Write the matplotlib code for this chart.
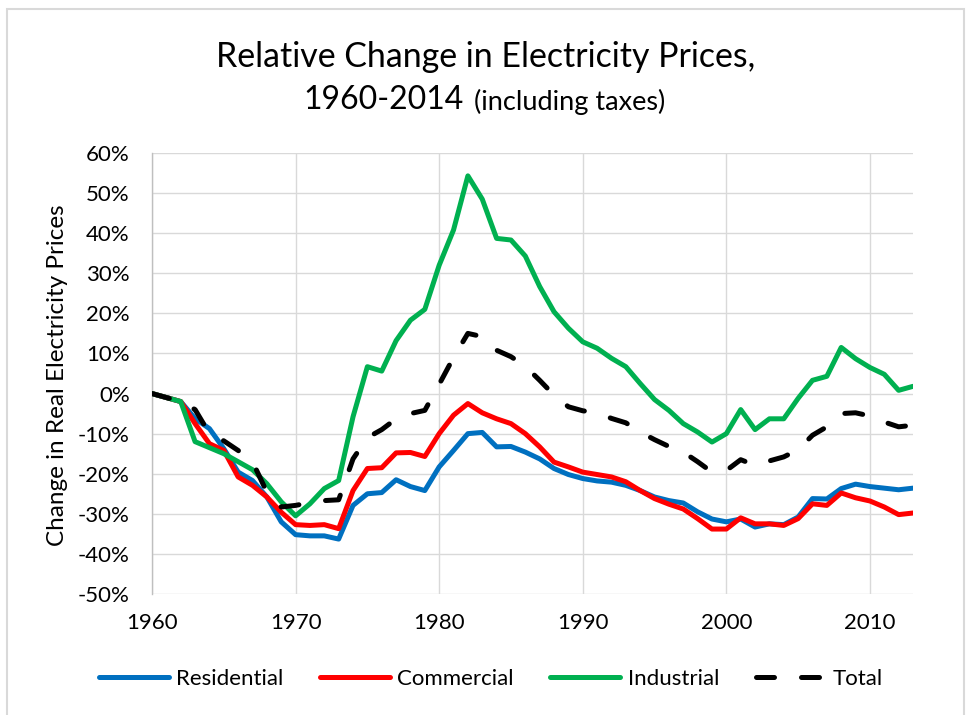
import matplotlib
matplotlib.use("Agg")
import matplotlib.pyplot as plt
from matplotlib.patches import Rectangle
import numpy as np

plt.rcParams['font.family'] = ['Lato', 'DejaVu Sans']

years = list(range(1960, 2014))

residential = [0, -1, -2, -6.25, -8.75, -13.75, -19.6, -21.7, -25.8, -32,
               -35.2, -35.5, -35.5, -36.3, -27.9, -25, -24.7, -21.5, -23.2, -24.2,
               -18.3, -14.2, -10, -9.7, -13.3, -13.2, -14.6, -16.3, -18.7, -20.2,
               -21.2, -21.8, -22.1, -22.9, -24.2, -25.8, -26.7, -27.3, -29.5, -31.3,
               -32, -31.3, -33.3, -32.5, -32.7, -30.8, -26.2, -26.3, -23.7, -22.6,
               -23.2, -23.6, -24, -23.6]

commercial = [0, -1, -2, -7.5, -12.5, -14.2, -20.8, -22.9, -25.8, -29.6,
              -32.7, -32.9, -32.7, -33.7, -24.2, -18.7, -18.5, -14.8, -14.7, -15.7,
              -10, -5.4, -2.5, -4.8, -6.3, -7.5, -10, -13.3, -17.1, -18.3,
              -19.6, -20.2, -20.8, -22, -24.2, -26.2, -27.6, -28.8, -31.2, -33.8,
              -33.8, -31, -32.5, -32.5, -32.9, -31.2, -27.5, -27.9, -24.8, -26,
              -26.8, -28.3, -30.2, -29.8]

industrial = [0, -1, -2, -12, -13.5, -15, -17, -19, -22.5, -27,
              -30.5, -27.5, -23.7, -21.7, -5.8, 6.7, 5.6, 13.2, 18.3, 21,
              32, 40.8, 54.3, 48.5, 38.7, 38.3, 34.3, 26.7, 20.4, 16.3,
              12.9, 11.3, 8.8, 6.7, 2.5, -1.5, -4.2, -7.5, -9.6, -12.1,
              -10, -4, -9, -6.3, -6.3, -1.2, 3.3, 4.3, 11.5, 8.7,
              6.5, 4.8, 0.8, 1.8]

total = [0, -1, -2, -4, -10, -11.8, -14.2, -17, -24.6, -28.3,
         -27.9, -27.2, -26.7, -26.5, -16.3, -11, -9, -6.3, -5, -4.2,
         2.3, 9, 15, 14.2, 10.8, 9.2, 6.8, 3.3, -0.4, -3.3,
         -4.3, -4.8, -6.2, -7.3, -9.6, -11.5, -13.2, -14.6, -17, -19.6,
         -19.2, -16.5, -17.9, -16.8, -15.8, -14, -10.4, -8.3, -5, -4.8,
         -5.6, -7.1, -8.3, -7.9]

series_names = ['Residential', 'Commercial', 'Industrial', 'Total']
series_colors = ['#0070C0', '#FF0000', '#00B050', '#000000']
x_ticks = [1960, 1970, 1980, 1990, 2000, 2010]
y_ticks = list(range(-50, 61, 10))

W, H = 967, 715
fig = plt.figure(figsize=(W / 100, H / 100), dpi=100)
ax = fig.add_axes([152 / W, 1 - 594 / H, (913 - 152) / W, (594 - 153) / H])

lw = 3.6
data = [residential, commercial, industrial, total]
for name, vals, col in zip(series_names, data, series_colors):
    if name == 'Total':
        ax.plot(years, vals, color=col, lw=lw, label=name,
                dashes=(3.6, 5.4), dash_capstyle='round', solid_capstyle='round', zorder=4)
    else:
        ax.plot(years, vals, color=col, lw=lw, label=name,
                solid_capstyle='round', solid_joinstyle='round', zorder=3)

ax.set_xlim(years[0], years[-1])
ax.set_ylim(-50, 60)
ax.set_xticks(x_ticks)
ax.set_yticks(y_ticks)
ax.set_yticklabels([f"{v}%" for v in y_ticks])
ax.tick_params(axis='both', length=0, labelsize=16, colors='black')
ax.tick_params(axis='y', pad=16)
ax.tick_params(axis='x', pad=14)
ax.grid(True, color='#D9D9D9', lw=1.0, zorder=0)
ax.set_axisbelow(True)
for s in ['top', 'right', 'bottom']:
    ax.spines[s].set_visible(False)
ax.spines['left'].set_color('#BFBFBF')
ax.spines['left'].set_linewidth(1.0)

fig.text(58 / W, 1 - 375 / H, 'Change in Real Electricity Prices', rotation=90,
         ha='center', va='center', fontsize=17.5)

fig.text(486 / W, 1 - 57 / H, 'Relative Change in Electricity Prices,',
         ha='center', va='center', fontsize=24.4)
fig.text(464 / W, 1 - 100 / H, '1960-2014', ha='right', va='center', fontsize=23)
fig.text(474 / W, 1 - 102 / H, '(including taxes)', ha='left', va='center', fontsize=19.5)

fig.legend(loc='center', bbox_to_anchor=(491 / W, 1 - 679 / H), ncol=4, frameon=False,
           fontsize=16, handlelength=3.15, handletextpad=0.32, columnspacing=1.65)

fig.patches.append(Rectangle((6.5 / W, -10 / H), (963.5 - 6.5) / W, (706.5 + 10) / H,
                             transform=fig.transFigure, fill=False,
                             edgecolor='#D9D9D9', lw=1.5))

fig.savefig('out.png', dpi=100, facecolor='white')
